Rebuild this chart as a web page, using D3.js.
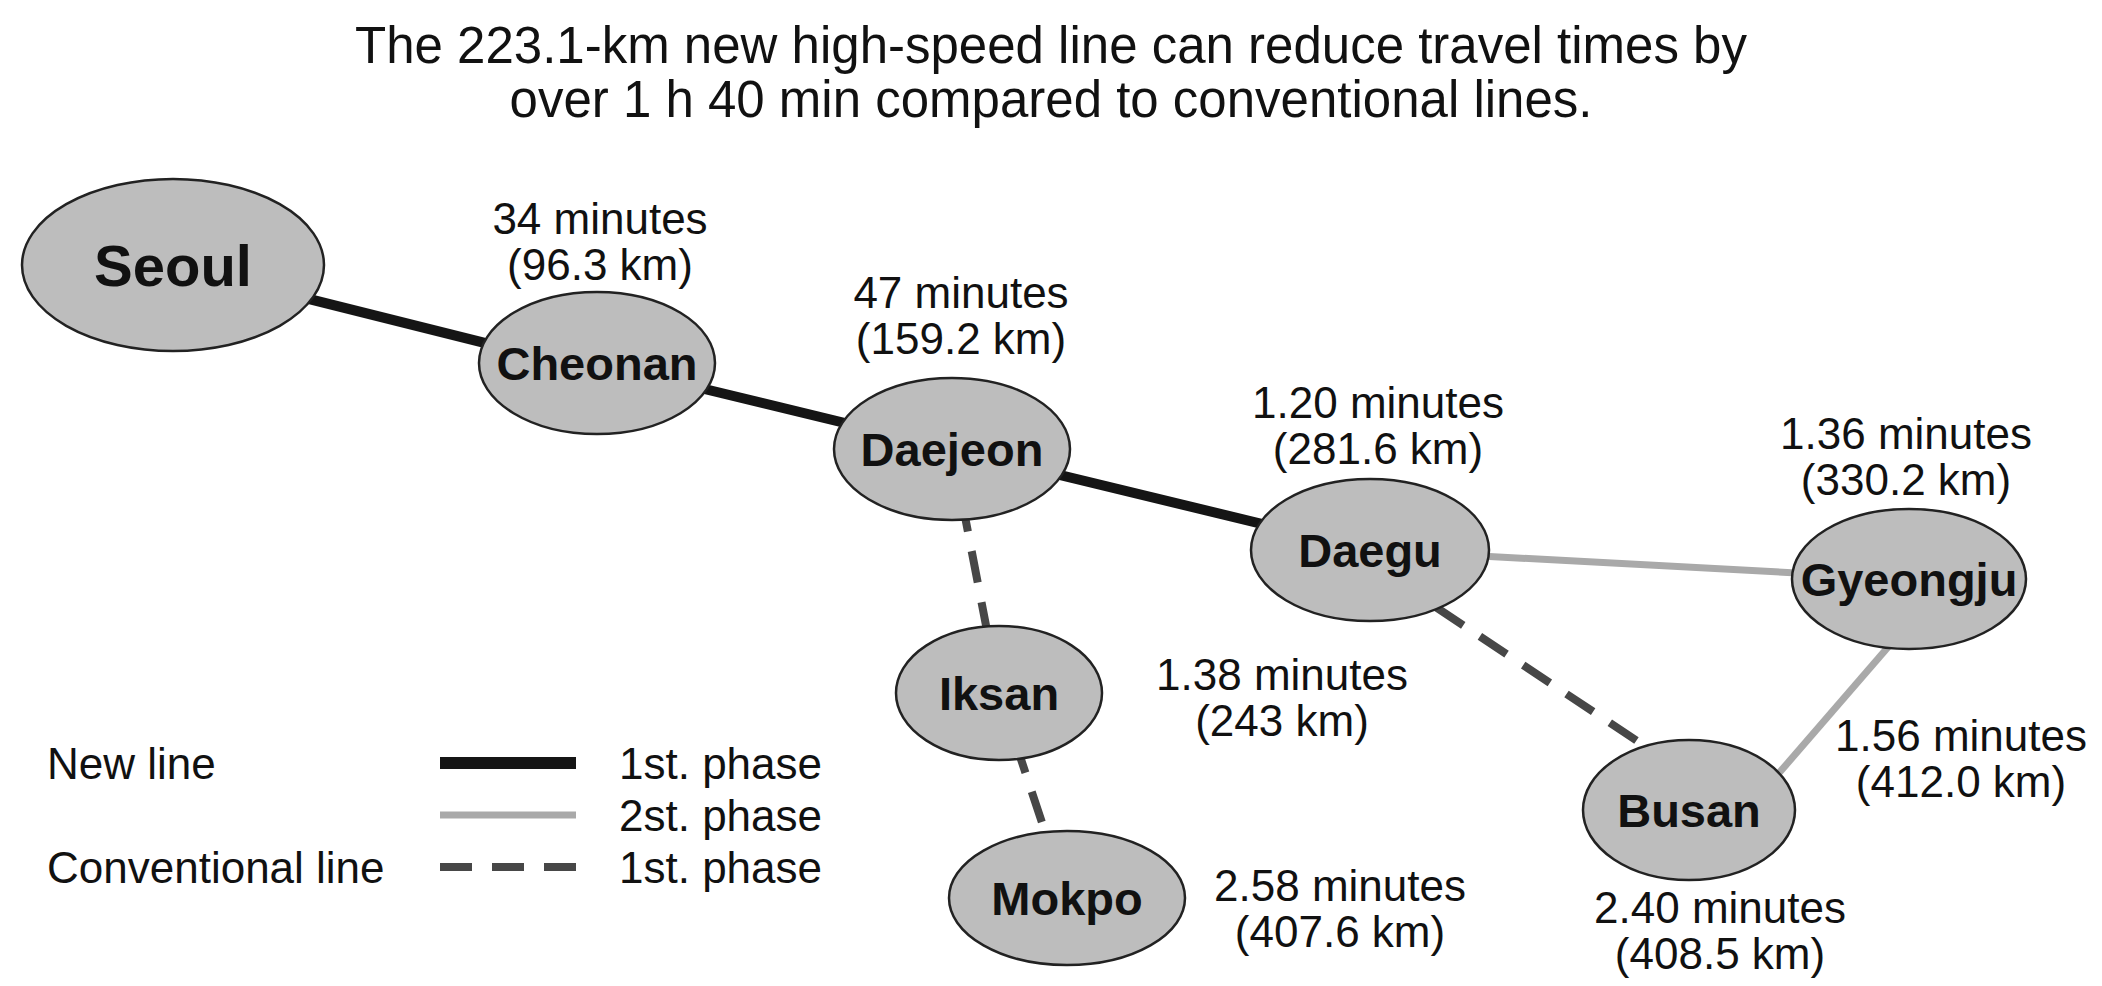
<!DOCTYPE html>
<html>
<head>
<meta charset="utf-8">
<script src="https://cdn.jsdelivr.net/npm/d3@7"></script>
<style>
  html, body { margin: 0; padding: 0; background: #fff; }
  svg { display: block; font-family: "Liberation Sans", Arial, sans-serif; }
</style>
</head>
<body>
<div id="chart"></div>
<script>
// Stations, the travel times and distances from Seoul.
var stations = ["Seoul", "Cheonan", "Daejeon", "Daegu", "Gyeongju", "Iksan", "Mokpo", "Busan"];
var times = [null, "34 minutes", "47 minutes", "1.20 minutes", "1.36 minutes", "1.38 minutes", "2.58 minutes", "2.40 minutes"];
var distances = [null, "96.3 km", "159.2 km", "281.6 km", "330.2 km", "243 km", "407.6 km", "408.5 km"];

// Connections: [from, to, kind].
var links = [
    ["Seoul", "Cheonan", "new1"],
    ["Cheonan", "Daejeon", "new1"],
    ["Daejeon", "Daegu", "new1"],
    ["Daegu", "Gyeongju", "new2"],
    ["Gyeongju", "Busan", "new2"],
    ["Daejeon", "Iksan", "conv1"],
    ["Iksan", "Mokpo", "conv1"],
    ["Daegu", "Busan", "conv1"]
];

// Extra label that sits on the Gyeongju - Busan leg.
var extra_time = "1.56 minutes";
var extra_distance = "412.0 km";

// Legend rows.
var legend_groups = ["New line", "", "Conventional line"];
var legend_kinds = ["new1", "new2", "conv1"];
var legend_phases = ["1st. phase", "2st. phase", "1st. phase"];

var title_lines = [
    "The 223.1-km new high-speed line can reduce travel times by",
    "over 1 h 40 min compared to conventional lines."
];

// ---------------------------------------------------------------------------
// Layout of the diagram (position of each station on the page).
var width = 2102, height = 986;

var layout = {
    Seoul:    {x: 173,  y: 265, rx: 151, ry: 86, fs: 58, lx: 0,    ly: 0},
    Cheonan:  {x: 597,  y: 363, rx: 118, ry: 71, fs: 47, lx: 600,  ly: 218},
    Daejeon:  {x: 952,  y: 449, rx: 118, ry: 71, fs: 47, lx: 961,  ly: 292},
    Daegu:    {x: 1370, y: 550, rx: 119, ry: 71, fs: 47, lx: 1378, ly: 402},
    Gyeongju: {x: 1909, y: 579, rx: 117, ry: 70, fs: 47, lx: 1906, ly: 433},
    Iksan:    {x: 999,  y: 693, rx: 103, ry: 67, fs: 47, lx: 1282, ly: 674},
    Mokpo:    {x: 1067, y: 898, rx: 118, ry: 67, fs: 47, lx: 1340, ly: 885},
    Busan:    {x: 1689, y: 810, rx: 106, ry: 70, fs: 47, lx: 1720, ly: 907}
};
var extra_pos = {x: 1961, y: 735};

// Where a link meets a station, as a shift from the station centre
// (only a few links are drawn off-centre in the original).
var link_shift = {
    "Seoul-Cheonan":  [0, 0, 0, 8],
    "Gyeongju-Busan": [38, 0, 58, 0],
    "Daegu-Busan":    [-20, 0, 52, 0]
};

var line_style = {
    new1:  {stroke: "#151515", width: 10, dash: null},
    new2:  {stroke: "#a9a9a9", width: 7,  dash: null},
    conv1: {stroke: "#474747", width: 8,  dash: "32,20"}
};

var label_size = 44, line_gap = 46, legend_size = 44;

var svg = d3.select("#chart").append("svg")
    .attr("width", width)
    .attr("height", height)
    .attr("viewBox", "0 0 " + width + " " + height);

// Title (baselines).
svg.append("g").selectAll("text")
    .data(title_lines)
    .join("text")
        .attr("x", width / 2)
        .attr("y", (d, i) => 63 + i * 54)
        .attr("text-anchor", "middle")
        .style("font-size", "51px")
        .style("fill", "#111")
        .text(d => d);

// Lines between stations (drawn first so ellipses sit on top).
function shift(d) {
    return link_shift[d[0] + "-" + d[1]] || [0, 0, 0, 0];
}

svg.append("g").selectAll("line")
    .data(links)
    .join("line")
        .attr("x1", d => layout[d[0]].x + shift(d)[0])
        .attr("y1", d => layout[d[0]].y + shift(d)[1])
        .attr("x2", d => layout[d[1]].x + shift(d)[2])
        .attr("y2", d => layout[d[1]].y + shift(d)[3])
        .style("stroke", d => line_style[d[2]].stroke)
        .style("stroke-width", d => line_style[d[2]].width)
        .style("stroke-dasharray", d => line_style[d[2]].dash);

// Stations.
var node = svg.append("g").selectAll("g")
    .data(stations)
    .join("g")
        .attr("transform", d => "translate(" + layout[d].x + "," + layout[d].y + ")");

node.append("ellipse")
    .attr("rx", d => layout[d].rx)
    .attr("ry", d => layout[d].ry)
    .style("fill", "#bdbdbd")
    .style("stroke", "#222")
    .style("stroke-width", 2.5);

node.append("text")
    .attr("text-anchor", "middle")
    .attr("dy", "0.36em")
    .style("font-weight", "bold")
    .style("font-size", d => layout[d].fs + "px")
    .style("fill", "#111")
    .text(d => d);

// Time / distance labels.
var labels = stations.map((s, i) => ({
    x: layout[s].lx, y: layout[s].ly, t: times[i], d: distances[i]
})).filter(d => d.t !== null);
labels.push({x: extra_pos.x, y: extra_pos.y, t: extra_time, d: extra_distance});

var lab = svg.append("g").selectAll("g")
    .data(labels)
    .join("g")
        .attr("transform", d => "translate(" + d.x + "," + d.y + ")");

lab.append("text")
    .attr("text-anchor", "middle")
    .attr("dy", "0.36em")
    .style("font-size", label_size + "px")
    .style("fill", "#111")
    .text(d => d.t);

lab.append("text")
    .attr("text-anchor", "middle")
    .attr("y", line_gap)
    .attr("dy", "0.36em")
    .style("font-size", label_size + "px")
    .style("fill", "#111")
    .text(d => "(" + d.d + ")");

// Legend.
var legend = svg.append("g").attr("transform", "translate(0, 763)");
var row_h = 52;

legend.selectAll("text.group")
    .data(legend_groups)
    .join("text")
        .attr("class", "group")
        .attr("x", 47)
        .attr("y", (d, i) => i * row_h)
        .attr("dy", "0.36em")
        .style("font-size", legend_size + "px")
        .style("fill", "#111")
        .text(d => d);

legend.selectAll("line")
    .data(legend_kinds)
    .join("line")
        .attr("x1", 440)
        .attr("x2", 576)
        .attr("y1", (d, i) => i * row_h)
        .attr("y2", (d, i) => i * row_h)
        .style("stroke", d => line_style[d].stroke)
        .style("stroke-width", d => d === "new1" ? 12 : line_style[d].width)
        .style("stroke-dasharray", d => line_style[d].dash);

legend.selectAll("text.phase")
    .data(legend_phases)
    .join("text")
        .attr("class", "phase")
        .attr("x", 619)
        .attr("y", (d, i) => i * row_h)
        .attr("dy", "0.36em")
        .style("font-size", legend_size + "px")
        .style("fill", "#111")
        .text(d => d);
</script>
</body>
</html>
